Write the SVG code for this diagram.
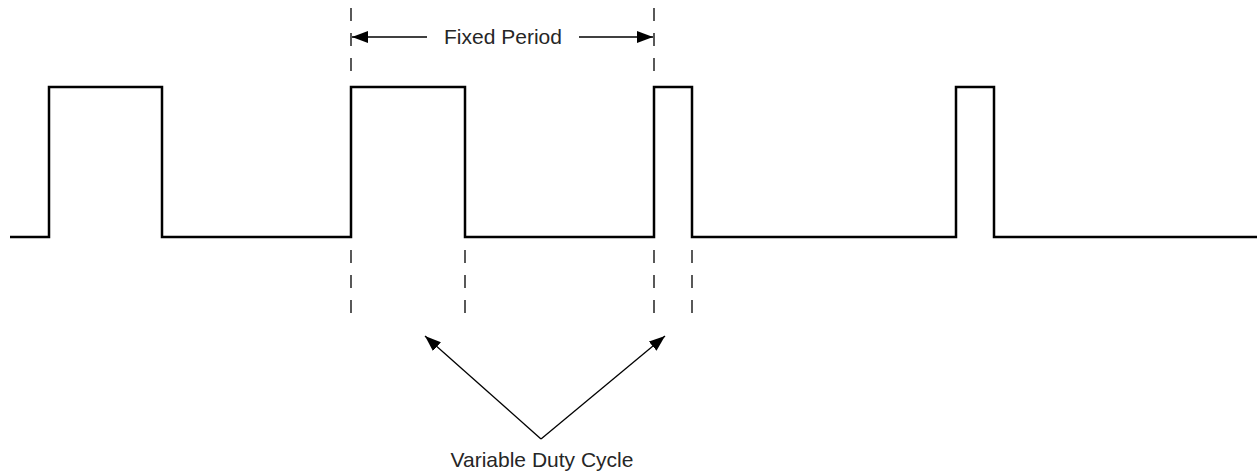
<svg xmlns="http://www.w3.org/2000/svg" width="1257" height="472" viewBox="0 0 1257 472">
<defs>
<marker id="ah" viewBox="0 0 16 12" refX="16" refY="6" markerWidth="16" markerHeight="12" markerUnits="userSpaceOnUse" orient="auto">
<path d="M0,0 L16,6 L0,12 Z" fill="#000"/>
</marker>
<style>
.wave{fill:none;stroke:#000;stroke-width:2.5;stroke-linejoin:miter}
.dash{stroke:#000;stroke-width:1.3;stroke-dasharray:13,12}
.arr{stroke:#000;stroke-width:1.3;fill:none}
.lbl{font-family:"Liberation Sans",Arial,sans-serif;font-size:21px;fill:#262626}
</style>
</defs>
<rect width="1257" height="472" fill="#fff"/>
<g id="waveform">
<path class="wave" d="M10,237 H49 V87 H162 V237 H351 V87 H465 V237 H654 V87 H692 V237 H956 V87 H994 V237 H1257"/>
</g>
<g id="connectors">
<line class="dash" x1="351" y1="8" x2="351" y2="72"/>
<line class="dash" x1="654" y1="8" x2="654" y2="72"/>
<line class="dash" x1="351" y1="250" x2="351" y2="318"/>
<line class="dash" x1="465" y1="250" x2="465" y2="318"/>
<line class="dash" x1="654" y1="250" x2="654" y2="318"/>
<line class="dash" x1="692" y1="250" x2="692" y2="318"/>
<line class="arr" x1="427" y1="37" x2="352" y2="37" marker-end="url(#ah)"/>
<line class="arr" x1="579" y1="37" x2="653" y2="37" marker-end="url(#ah)"/>
<line class="arr" x1="541" y1="439" x2="425" y2="336" marker-end="url(#ah)"/>
<line class="arr" x1="541" y1="439" x2="665" y2="336" marker-end="url(#ah)"/>
</g>
<g id="label-fixed-period">
<text class="lbl" x="503" y="44" text-anchor="middle">Fixed Period</text>
</g>
<g id="label-variable-duty">
<text class="lbl" x="542" y="467" text-anchor="middle">Variable Duty Cycle</text>
</g>
</svg>
